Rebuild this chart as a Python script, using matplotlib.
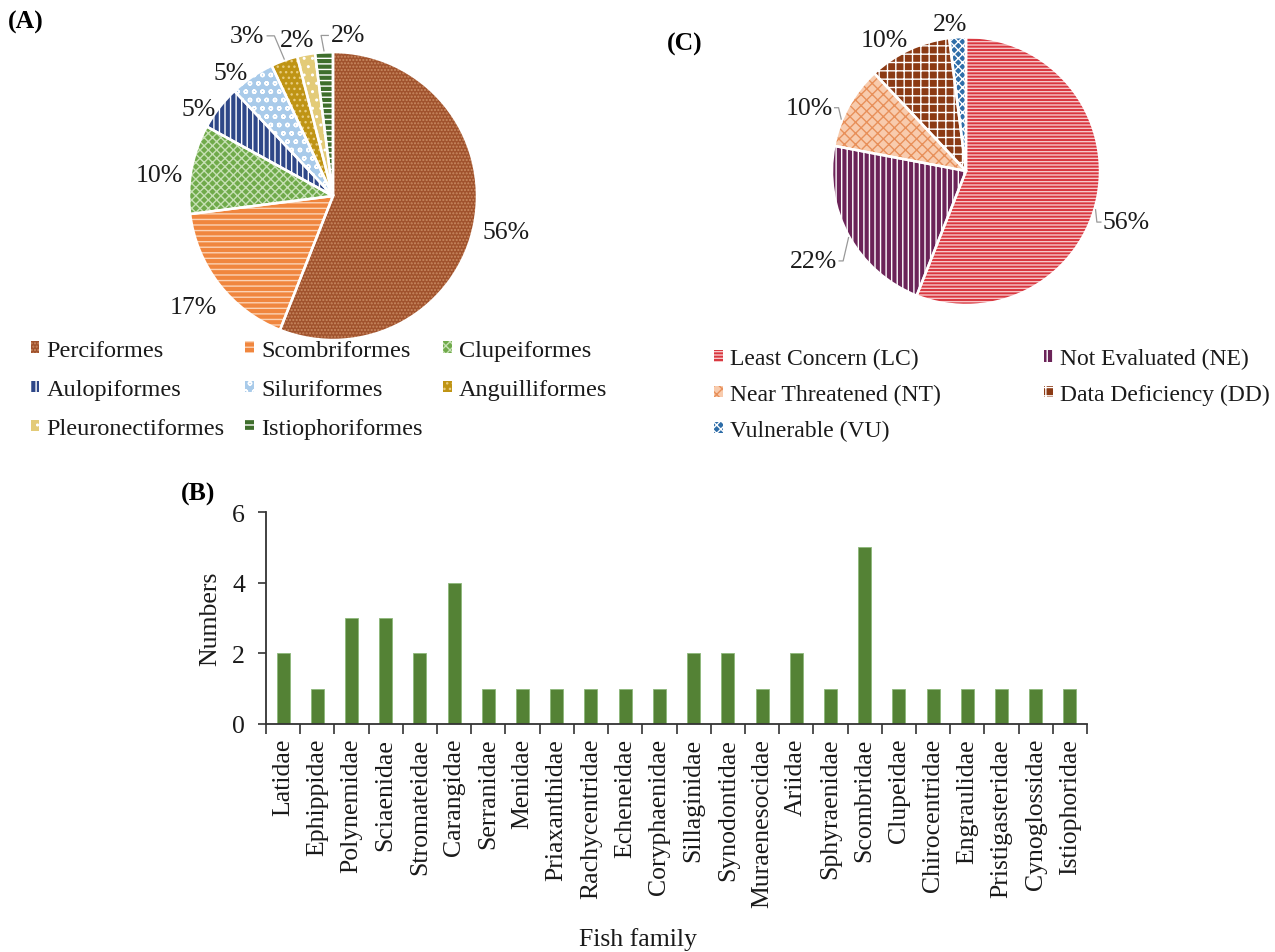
import numpy as np
import matplotlib
matplotlib.use("Agg")
import matplotlib.pyplot as plt

plt.rcParams['font.family'] = ['Liberation Serif', 'DejaVu Serif']
plt.rcParams['hatch.linewidth'] = 1.0

# (A) orders
orders = ["Perciformes", "Scombriformes", "Clupeiformes", "Aulopiformes",
          "Siluriformes", "Anguilliformes", "Pleuronectiformes", "Istiophoriformes"]
order_pct = [56, 17, 10, 5, 5, 3, 2, 2]

# (C) IUCN status
status = ["Least Concern (LC)", "Not Evaluated (NE)", "Near Threatened (NT)",
          "Data Deficiency (DD)", "Vulnerable (VU)"]
status_pct = [56, 22, 10, 10, 2]

# (B) families
families = ["Latidae", "Ephippidae", "Polynemidae", "Sciaenidae", "Stromateidae",
            "Carangidae", "Serranidae", "Menidae", "Priaxanthidae", "Rachycentridae",
            "Echeneidae", "Coryphaenidae", "Sillaginidae", "Synodontidae",
            "Muraenesocidae", "Ariidae", "Sphyraenidae", "Scombridae", "Clupeidae",
            "Chirocentridae", "Engraulidae", "Pristigasteridae", "Cynoglossidae",
            "Istiophoridae"]
family_counts = [2, 1, 3, 3, 2, 4, 1, 1, 1, 1, 1, 1, 2, 2, 1, 2, 1, 5, 1, 1, 1, 1, 1, 1]

# styles: (face, hatch, hatch colour)
a_styles = [("#A0522D", ".....", "#C98A62"),
            ("#F0863E", "---", "#FBD2B4"),
            ("#6FAA4A", "xxxx", "#C6E0B4"),
            ("#2E4788", "|||", "white"),
            ("#A9CBEA", "oo", "white"),
            ("#BF9414", "...", "#E8CC80"),
            ("#E3CB78", "..", "white"),
            ("#3E6E2C", "---", "white")]
c_styles = [("#D9363E", "-----", "#F6C6C8"),
            ("#6B2358", "|||", "white"),
            ("#F8CBAD", "xxx", "#E8905A"),
            ("#8B3A14", "++", "white"),
            ("#2E6DA8", "xxxx", "white")]

W, H = 1275, 953
fig = plt.figure(figsize=(W / 100, H / 100), dpi=100)
txt = "#1a1a1a"
fs = 18.5
lfs = 17.5


def pie_axes(cx, cy, r):
    ax = fig.add_axes([(cx - r) / W, (H - cy - r) / H, 2 * r / W, 2 * r / H])
    ax.axis('off')
    return ax


def draw_pie(ax, vals, styles):
    wedges, _ = ax.pie(vals, startangle=90, counterclock=False, radius=1)
    for w, (fc, h, hc) in zip(wedges, styles):
        w.set_facecolor(fc)
        w.set_hatch(h)
        w.set_edgecolor(hc)
        w.set_linewidth(0)
    # white separators
    ax.pie(vals, startangle=90, counterclock=False, radius=1,
           wedgeprops=dict(fill=False, edgecolor='white', linewidth=1.8))
    ax.set_xlim(-1, 1)
    ax.set_ylim(-1, 1)
    ax.set_aspect('equal')
    return wedges


def col_major(items, ncol):
    # reorder so that matplotlib's column filling gives row-major reading
    nrow = int(np.ceil(len(items) / ncol))
    out = []
    for c in range(ncol):
        for r in range(nrow):
            k = r * ncol + c
            if k < len(items):
                out.append(items[k])
    return out


# ---- (A)
axA = pie_axes(333, 197, 144)
wA = draw_pie(axA, order_pct, a_styles)
a_rad = [1.22, 1.23, 1.22, 1.12, 1.13, 1.28, 1.13, 1.14]
a_nudge = [0, 0, 3, 4, 5, 8, 2, -9]
for i, (w, p) in enumerate(zip(wA, order_pct)):
    ang = np.deg2rad((w.theta1 + w.theta2) / 2 + a_nudge[i])
    x, y = a_rad[i] * np.cos(ang), a_rad[i] * np.sin(ang) - 0.02
    axA.text(x, y, f"{p}%", ha='center', va='center', fontsize=fs, color=txt)
# leader lines for the crowded labels
for i, side in [(5, 1), (7, -1)]:
    w = wA[i]
    ang = np.deg2rad((w.theta1 + w.theta2) / 2)
    ex, ey = np.cos(ang), np.sin(ang)
    lang = np.deg2rad((w.theta1 + w.theta2) / 2 + a_nudge[i])
    lx, ly = a_rad[i] * np.cos(lang) + side * 0.14, a_rad[i] * np.sin(lang) - 0.02
    axA.plot([lx, lx + side * 0.05, ex], [ly, ly, ey + 0.01], color='#999999', lw=0.9,
             clip_on=False)
fig.text(8 / W, 1 - 22 / H, "(A)", fontsize=fs, fontweight='bold', va='center')
fig.legend(col_major(wA, 3), col_major(orders, 3), loc='upper left',
           bbox_to_anchor=(9 / W, 1 - 319 / H), ncol=3,
           frameon=False, fontsize=lfs, handlelength=0.35, handleheight=0.35,
           handletextpad=0.3, columnspacing=0.85, labelspacing=0.75,
           labelcolor=txt)

# ---- (C)
axC = pie_axes(966, 172, 134)
wC = draw_pie(axC, status_pct, c_styles)
c_rad = [1.25, 1.31, 1.27, 1.17, 1.12]
c_nudge = [-6, 1, 6, 6, 2.5]
for i, (w, p) in enumerate(zip(wC, status_pct)):
    ang = np.deg2rad((w.theta1 + w.theta2) / 2 + c_nudge[i])
    x, y = c_rad[i] * np.cos(ang), c_rad[i] * np.sin(ang) - 0.02
    axC.text(x, y, f"{p}%", ha='center', va='center', fontsize=fs, color=txt)
for i in [0, 1, 2]:
    w = wC[i]
    ang = np.deg2rad((w.theta1 + w.theta2) / 2 + c_nudge[i])
    ex, ey = np.cos(ang), np.sin(ang)
    side = -1 if np.cos(ang) > 0 else 1
    lx = c_rad[i] * np.cos(ang) + side * 0.19
    ly = c_rad[i] * np.sin(ang) - 0.02
    axC.plot([lx, lx + side * 0.03, ex * 1.01], [ly, ly, ey], color='#999999', lw=0.9,
             clip_on=False)
fig.text(667 / W, 1 - 44 / H, "(C)", fontsize=fs, fontweight='bold', va='center')
fig.legend(col_major(wC, 2), col_major(status, 2), loc='upper left',
           bbox_to_anchor=(693 / W, 1 - 328 / H), ncol=2,
           frameon=False, fontsize=17, handlelength=0.35, handleheight=0.35,
           handletextpad=0.3, columnspacing=4.4, labelspacing=0.62,
           labelcolor=txt)

# ---- (B)
axB = fig.add_axes([266 / W, 228 / H, 821 / W, 212 / H])
x = np.arange(len(families))
axB.bar(x, family_counts, width=0.38, color="#548235", edgecolor="#8DB87A", linewidth=0.6)
axB.set_xlim(-0.5, len(families) - 0.5)
axB.set_ylim(0, 6)
axB.set_yticks([0, 2, 4, 6])
axB.set_xticks(x)
axB.set_xticklabels(families, rotation=90, fontsize=fs, color=txt)
axB.set_xticks(np.arange(len(families) + 1) - 0.5, minor=True)
axB.tick_params(axis='x', which='major', length=0, pad=10)
axB.tick_params(axis='x', which='minor', length=7, width=1.2, color='#333333')
axB.tick_params(axis='y', length=6, width=1.2, pad=9, labelsize=fs, labelcolor=txt,
                color='#333333')
for s in ['top', 'right']:
    axB.spines[s].set_visible(False)
for s in ['left', 'bottom']:
    axB.spines[s].set_linewidth(1.3)
    axB.spines[s].set_color('#333333')
axB.set_ylabel("Numbers", fontsize=fs, color=txt, labelpad=8)
fig.text(638 / W, 1 - 940 / H, "Fish family", fontsize=fs, color=txt, ha='center', va='center')
fig.text(181 / W, 1 - 494 / H, "(B)", fontsize=fs, fontweight='bold', va='center')

fig.savefig("out.png", dpi=100)
